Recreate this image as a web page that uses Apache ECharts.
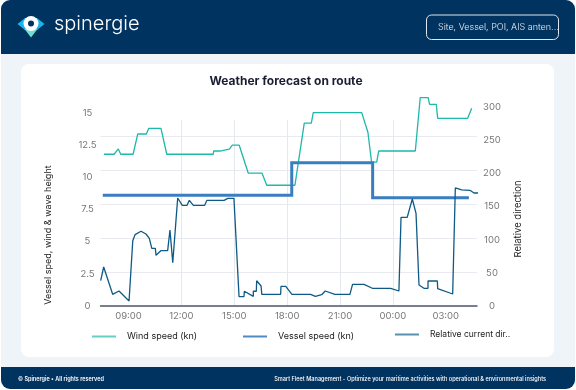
<!DOCTYPE html>
<html><head><meta charset="utf-8">
<style>html,body{margin:0;padding:0;background:#fff}#c{width:576px;height:390px}</style>
<script src="https://cdn.jsdelivr.net/npm/echarts@6/dist/echarts.min.js"></script>
</head><body><div id="c"></div>
<script>
const windHours=[7.61,8.18,8.42,8.56,9.26,9.52,10.01,10.15,10.84,11.17,13.81,13.83,14.19,14.23,14.72,14.89,15.28,15.79,16.57,16.84,18.44,18.97,19.37,19.48,22.23,22.58,22.79,23.08,23.19,25.27,25.55,26.00,26.08,26.46,26.54,28.24,28.47];
const windSpeed=[11.79,11.79,12.2,11.79,11.79,13.36,13.36,13.8,13.8,11.79,11.79,12.04,12.04,12.18,12.18,12.49,12.49,10.33,10.33,9.38,9.38,14.2,14.2,15.02,15.02,13.5,11.17,11.17,12.04,12.04,16.19,16.19,15.67,15.67,14.58,14.58,15.36];
const vesselHours=[7.54,18.26,18.26,22.85,22.85,28.31];
const vesselSpeed=[8.6,8.6,11.13,11.13,8.41,8.41];
const dirHours=[7.42,7.59,8.10,8.46,9.03,9.24,9.37,9.71,9.99,10.18,10.32,10.52,10.56,10.83,11.22,11.35,11.51,11.68,11.79,12.05,12.32,12.45,12.68,13.32,13.45,14.42,14.63,14.98,15.27,15.55,15.57,16.08,16.08,16.25,16.27,16.52,16.56,17.03,17.63,17.65,17.92,18.27,19.33,19.60,19.96,20.16,20.71,21.56,21.71,22.36,22.83,23.87,24.34,24.46,24.81,25.10,25.31,25.48,25.76,25.99,25.99,26.52,26.54,27.39,27.54,27.90,28.37,28.60,28.98];
const relativeDir=[38.1,58.8,17.6,22.6,7.5,98.4,107.5,112.6,108.5,102,87,87,76.4,83.4,83.4,114.6,65.3,124.7,162.8,151.8,151.8,159.3,151.8,151.8,159.3,159.3,162.3,162.3,14,14,22.2,14.6,22.2,22.2,38.1,30.1,17.6,17.6,17.6,29.7,29.7,17.6,17.6,14.6,17,22.6,17.6,17.6,32.7,32.7,26.7,26.7,22.6,133.7,133.7,161.3,139.7,31.7,26.7,26.7,37.7,37.7,26.1,18.1,177.9,174.9,174.4,170.3,170.3];
const seriesNames=["Wind speed (kn)","Vessel speed (kn)","Relative current dir.."];
const colors=["#1db9a9","#3a7dc0","#0e5a86"];
const legendColors=["#63d2c3","#4f8cc6","#5a8fb0"];
const leftTicks=[0,2.5,5,7.5,10,12.5,15];
const rightTicks=[0,50,100,150,200,250,300];
const timeTicks=[9,12,15,18,21,24,27];
const zip=(a,b)=>a.map((h,i)=>[h,b[i]]);
const xMin=7.41,xMax=28.77;
const timeFmt=v=>String(v%24).padStart(2,'0')+':00';
const font='Inter';
const navy='#003360';
const chart=echarts.init(document.getElementById('c'),null,{renderer:'canvas'});
const legendAt=(i,left,top,size)=>({data:[{name:seriesNames[i],icon:'rect'}],left,top,itemWidth:24,itemHeight:2,padding:0,
  itemStyle:{color:legendColors[i],borderWidth:0},lineStyle:{color:legendColors[i],width:0},textStyle:{fontFamily:font,fontSize:size,color:'#222',padding:[0,0,0,6]}});
chart.setOption({
  animation:false,backgroundColor:'#fff',
  textStyle:{fontFamily:font},
  grid:[
    {left:100.5,right:99,top:90,bottom:84},
    {left:100.5,right:99,top:120,bottom:84}
  ],
  xAxis:[
    {type:'value',gridIndex:0,min:xMin,max:xMax,
     axisLine:{show:true,lineStyle:{color:'#50586a',width:1.5}},axisTick:{show:false,customValues:timeTicks},splitLine:{show:false},
     axisLabel:{customValues:timeTicks,formatter:timeFmt,color:'#777',fontSize:9.5,fontFamily:font,margin:5,hideOverlap:false}},
    {type:'value',gridIndex:1,min:xMin,max:xMax,
     axisLine:{show:false},axisTick:{show:false,customValues:timeTicks},axisLabel:{show:false,customValues:timeTicks},
     splitLine:{show:true,showMinLine:false,showMaxLine:false,lineStyle:{color:'#e6e8ef',width:1}}}
  ],
  yAxis:[
    {type:'value',gridIndex:0,position:'left',min:0,max:16.78,interval:2.5,
     axisLine:{show:false},axisTick:{show:false},splitLine:{show:false},
     axisLabel:{color:'#777',fontSize:9.5,fontFamily:font,align:'center',margin:13,showMaxLabel:false,formatter:v=>leftTicks.includes(v)?String(v):''}},
    {type:'value',gridIndex:0,position:'right',min:0,max:325.6,interval:50,
     axisLine:{show:false},axisTick:{show:false},splitLine:{show:false},
     axisLabel:{color:'#777',fontSize:9.5,fontFamily:font,align:'center',margin:15,showMaxLabel:false,formatter:v=>rightTicks.includes(v)?String(v):''}},
    {type:'value',gridIndex:1,position:'left',min:0,max:5.47,interval:1,
     axisLine:{show:false},axisTick:{show:false},axisLabel:{show:false},
     splitLine:{show:true,showMaxLine:false,lineStyle:{color:'#e8eaf0',width:1}}}
  ],
  legend:[legendAt(0,92,332,9),legendAt(1,243,332,9),legendAt(2,395,330,8.5)],
  series:[
    {name:seriesNames[0],type:'line',xAxisIndex:0,yAxisIndex:0,data:zip(windHours,windSpeed),showSymbol:false,clip:false,z:3,lineStyle:{color:colors[0],width:1.3},itemStyle:{color:colors[0]}},
    {name:seriesNames[1],type:'line',xAxisIndex:0,yAxisIndex:0,data:zip(vesselHours,vesselSpeed),showSymbol:false,clip:false,z:4,lineStyle:{color:colors[1],width:3,join:'miter'},itemStyle:{color:colors[1]}},
    {name:seriesNames[2],type:'line',xAxisIndex:0,yAxisIndex:1,data:zip(dirHours,relativeDir),showSymbol:false,clip:false,z:5,lineStyle:{color:colors[2],width:1.3},itemStyle:{color:colors[2]}}
  ],
  graphic:{elements:[
    {type:'rect',z:-10,silent:true,shape:{x:1,y:0,width:574,height:389,r:9},style:{fill:'#eff4f8'}},
    {type:'rect',z:-9,silent:true,shape:{x:1,y:0,width:574,height:54,r:[9,9,0,0]},style:{fill:navy}},
    {type:'rect',z:-9,silent:true,shape:{x:1,y:367,width:574,height:22,r:[0,0,9,9]},style:{fill:navy}},
    {type:'rect',z:-9,silent:true,shape:{x:21,y:64,width:533,height:293,r:8},style:{fill:'#fff'}},
    {type:'polygon',z:-8,silent:true,shape:{points:[[17.5,24],[25,18],[37,18],[44.5,24],[37,30],[25,30]]},style:{fill:'#19b5ea'}},
    {type:'polygon',z:-8,silent:true,shape:{points:[[24.5,29],[37.5,29],[31,37.5]]},style:{fill:'#6fe0cf'}},
    {type:'circle',z:-7,silent:true,shape:{cx:31,cy:23.5,r:7.5},style:{fill:'#fff'}},
    {type:'circle',z:-6,silent:true,shape:{cx:31,cy:23.5,r:3},style:{fill:navy}},
    {type:'text',x:54,y:24,z:-5,silent:true,style:{text:'spinergie',font:'300 20px '+font,fill:'#fff',textVerticalAlign:'middle'}},
    {type:'rect',z:-8,silent:true,shape:{x:426.5,y:15,width:132,height:24.5,r:5},style:{fill:'none',stroke:'#dfe7ef',lineWidth:1}},
    {type:'text',x:438,y:27,z:-5,silent:true,style:{text:'Site, Vessel, POI, AIS anten...',font:'300 9px '+font,fill:'#e8eef4',textVerticalAlign:'middle'}},
    {type:'text',x:286,y:81,z:-5,silent:true,style:{text:'Weather forecast on route',font:'700 12px '+font,fill:'#1b1d33',textAlign:'center',textVerticalAlign:'middle'}},
    {type:'text',x:48,y:235,rotation:Math.PI/2,z:-5,silent:true,style:{text:'Vessel sped, wind & wave height',font:'9px '+font,fill:'#222',textAlign:'center',textVerticalAlign:'middle'}},
    {type:'text',x:518,y:219,rotation:Math.PI/2,z:-5,silent:true,style:{text:'Relative direction',font:'9.5px '+font,fill:'#222',textAlign:'center',textVerticalAlign:'middle'}},
    {type:'text',x:18,y:379,z:-5,silent:true,style:{text:'© Spinergie • All rights reserved',font:'600 5.5px '+font,fill:'#fff',textVerticalAlign:'middle'}},
    {type:'text',x:546,y:379,z:-5,silent:true,style:{text:'Smart Fleet Management - Optimize your maritime activities with operational & environmental insights',font:'500 5.6px '+font,fill:'#fff',textAlign:'right',textVerticalAlign:'middle'}}
  ]}
});
</script></body></html>
